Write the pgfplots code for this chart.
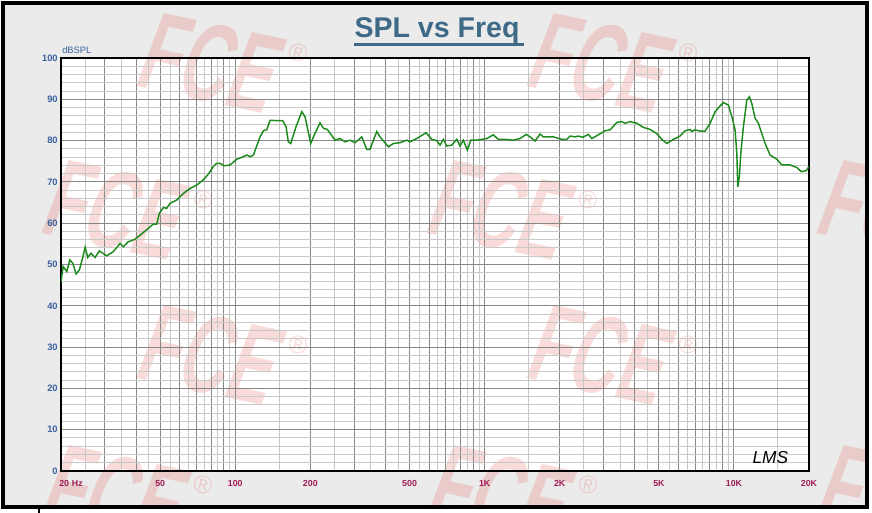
\documentclass[border=0pt]{standalone}
\usepackage{pgfplots}
\pgfplotsset{compat=1.18}
\usepackage{fontspec}
\setmainfont{Liberation Sans}
\definecolor{bggray}{RGB}{235,235,235}
\definecolor{titleblue}{RGB}{62,106,136}
\definecolor{yblue}{RGB}{58,96,160}
\definecolor{xmaroon}{RGB}{160,28,88}
\definecolor{majgrid}{RGB}{135,135,135}
\definecolor{mingrid}{RGB}{200,200,200}
\definecolor{curvegreen}{RGB}{28,138,28}
\definecolor{wmred}{RGB}{228,80,66}
\begin{document}
\begin{tikzpicture}
\begin{scope}[x=0.75pt,y=-0.75pt]
\useasboundingbox (0,0) rectangle (872,513);
\fill[white] (0,0) rectangle (872,513);
\fill[bggray] (3,3) rectangle (867,507);
\fill[white] (61,58) rectangle (809,471);
\begin{scope}
\clip (3,3) rectangle (867,507);
\foreach \cx/\cy in {212/63, 602/63, 117/210, 502/210, 892/210, 212/355, 602/355, 117/495, 502/495, 892/495}{
  \begin{scope}[shift={(\cx,\cy)}, rotate=-12]
  \node[transform shape, text=wmred, opacity=0.2, xslant=0.15, xscale=0.6, font=\fontsize{84}{84}\selectfont\bfseries, inner sep=0pt] at (0,0) {FCE};
  \node[transform shape, text=wmred, opacity=0.2, font=\fontsize{19}{19}\selectfont, inner sep=0pt] at (82,-28) {®};
  \end{scope}
}
\end{scope}
\draw[black, line width=3pt] (3,3) rectangle (867,507);
\draw[black, line width=1.5pt] (39,507) -- (39,513);
\node[text=titleblue, font=\fontsize{21.4}{24}\selectfont\bfseries, inner sep=0pt, anchor=base] (T) at (437,38) {SPL vs Freq};
\draw[titleblue, line width=1.6pt] (T.base west) ++(0,6.5) -- ++(170,0);
\node[text=yblue, font=\fontsize{7}{8}\selectfont, inner sep=0pt, anchor=west] at (62,50) {dBSPL};
\end{scope}
\begin{axis}[
  at={(45.75pt,-353.25pt)}, anchor=south west,
  scale only axis, width=561pt, height=309.75pt,
  xmode=log, xmin=20, xmax=20000, ymin=0, ymax=100,
  axis line style={black, line width=1.1pt},
  xtick={20,30,40,50,60,70,80,90,100,200,300,400,500,600,700,800,900,1000,2000,3000,4000,5000,6000,7000,8000,9000,10000,20000},
  xticklabels={,,,50,,,,,100,200,,,500,,,,,1K,2K,,,5K,,,,,10K,20K},
  minor xtick={25,35,45,55,65,75,85,95,150,250,350,450,550,650,750,850,950,1500,2500,3500,4500,5500,6500,7500,8500,9500,15000},
  ytick={0,10,...,100},
  minor ytick={2,4,6,8,12,14,16,18,22,24,26,28,32,34,36,38,42,44,46,48,52,54,56,58,62,64,66,68,72,74,76,78,82,84,86,88,92,94,96,98},
  grid=both,
  major grid style={majgrid, line width=0.75pt},
  minor grid style={mingrid, line width=0.75pt},
  major tick length=0pt, minor tick length=0pt,
  /pgf/number format/assume math mode=true,
  xticklabel style={text=xmaroon, font=\fontsize{6.6}{8}\selectfont\bfseries, anchor=north, inner sep=0pt, yshift=-6.6pt},
  yticklabel style={text=yblue, font=\fontsize{7}{8}\selectfont\bfseries, anchor=east, inner sep=0pt, xshift=-2.3pt},
  clip mode=individual,
]
\addplot[curvegreen, line width=1.1pt] coordinates {
(20,45.8) (20.4,49.5) (21.1,48.3) (21.7,51.1) (22.3,50.3) (23.0,47.7) (23.7,48.7) (24.4,51.5) (25.0,54.2) (25.6,51.7)
(26.4,52.7) (27.4,51.7) (28.5,53.3) (30.5,52.1) (32.4,53.1) (34.5,55.1) (35.6,54.3) (37.2,55.5) (39.6,56.1) (41.5,57.1)
(44.1,58.4) (46.9,59.8) (48.4,59.8) (49.6,62.4) (51.5,63.8) (53.1,63.6) (54.7,64.8) (58.2,65.6) (61.9,67.2) (65.8,68.4)
(70.0,69.2) (74.4,70.5) (78.0,71.9) (81.6,73.7) (84.2,74.5) (86.9,74.5) (90.1,73.9) (95.3,74.1) (101.3,75.5) (107.7,76.1)
(111.2,76.5) (114.6,76.1) (118.2,76.5) (125.7,80.9) (129.6,82.4) (133.7,82.6) (137.8,84.9) (155.0,84.8) (159.8,83.4) (163.2,79.7)
(166.9,79.3) (175.3,83.4) (184.8,87.0) (190.4,85.8) (200.7,79.3) (208.9,81.8) (218.7,84.3) (225.5,83.0) (234.0,82.7) (251.3,80.1)
(263.2,80.5) (275.6,79.7) (288.6,80.1) (302.3,79.5) (321.5,80.9) (336.7,77.9) (347.1,77.9) (369.3,82.2) (380.7,80.9) (411.1,78.5)
(430.5,79.3) (457.9,79.5) (487.2,80.1) (502.2,79.7) (534.4,80.5) (582.3,81.9) (613.8,80.3) (642.7,80.0) (662.7,78.9) (683.2,80.3)
(704.9,78.7) (738.3,78.9) (773.1,80.3) (797.1,78.7) (821.8,80.1) (852.7,77.7) (880.0,80.1) (930.2,80.1) (1020,80.5) (1084,81.4)
(1135,80.3) (1208,80.3) (1304,80.1) (1388,80.5) (1467,81.5) (1522,80.9) (1593,79.9) (1669,81.6) (1720,80.9) (1887,80.9)
(2039,80.3) (2136,80.3) (2202,81.1) (2306,80.9) (2377,81.1) (2476,80.8) (2607,81.5) (2691,80.5) (2859,81.4) (3042,82.4)
(3186,82.6) (3389,84.4) (3549,84.6) (3659,84.2) (3832,84.6) (4076,84.2) (4333,83.2) (4610,82.7) (4905,81.7) (5136,80.3)
(5378,79.3) (5715,80.3) (6082,81.1) (6368,82.4) (6670,82.7) (6776,82.2) (6985,82.6) (7315,82.3) (7660,82.3) (8023,84.2)
(8402,87.0) (8799,88.4) (9071,89.2) (9501,88.6) (9803,85.8) (10106,82.6) (10268,76.9) (10362,68.8) (10516,71.3) (10652,76.9)
(10912,83.4) (11260,89.8) (11532,90.6) (11790,89.0) (12158,85.4) (12532,84.2) (13334,79.3) (13964,76.5) (14854,75.5) (15558,74.1)
(16800,74.1) (17872,73.5) (18594,72.5) (19472,72.7) (20000,73.7)
};
\node[text=xmaroon, font=\fontsize{6.6}{8}\selectfont\bfseries, anchor=north west, inner sep=0pt] at (axis cs:20,0) [yshift=-6.6pt, xshift=-1.5pt] {20\,\,Hz};
\node[font=\fontsize{13}{13}\selectfont\itshape, inner sep=0pt] at (axis cs:14000,3.2) {LMS};
\end{axis}
\end{tikzpicture}
\end{document}
